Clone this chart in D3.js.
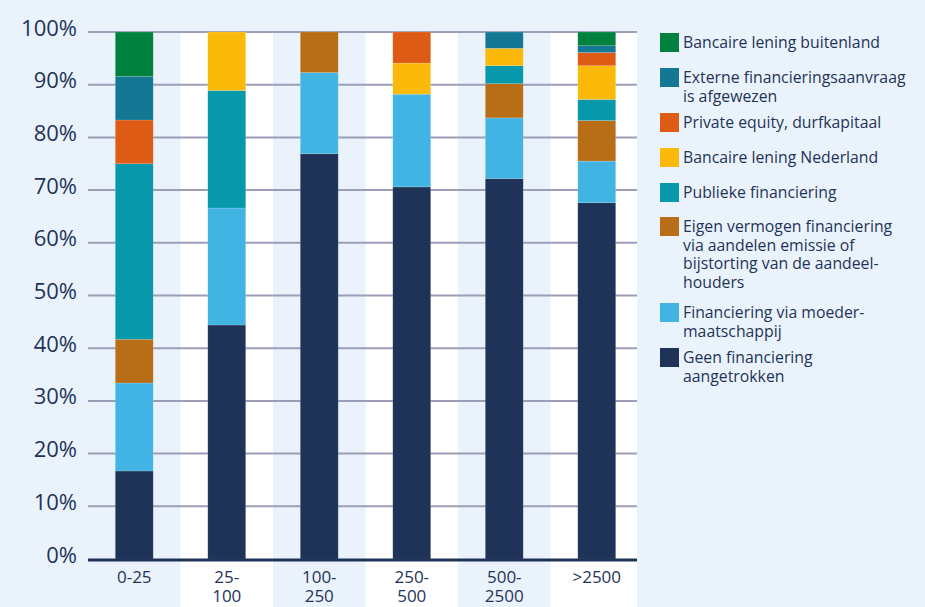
<!DOCTYPE html>
<html><head><meta charset="utf-8">
<script src="https://cdn.jsdelivr.net/npm/d3@7"></script>
<style>
html,body{margin:0;padding:0;background:#EAF3FB;}
svg{display:block;}
text{font-family:"Open Sans",sans-serif;fill:#1F3359;}
</style></head>
<body><svg id="chart" width="925" height="607"></svg>
<script>
const categories = ["0-25", "25-100", "100-250", "250-500", "500-2500", ">2500"];
const categoryLines = [["0-25"], ["25-", "100"], ["100-", "250"], ["250-", "500"], ["500-", "2500"], [">2500"]];
const yTicks = [0, 10, 20, 30, 40, 50, 60, 70, 80, 90, 100];

// series, bottom to top
const seriesNames = [
  "Geen financiering aangetrokken",
  "Financiering via moedermaatschappij",
  "Eigen vermogen financiering",
  "Publieke financiering",
  "Bancaire lening Nederland",
  "Private equity, durfkapitaal",
  "Externe financieringsaanvraag is afgewezen",
  "Bancaire lening buitenland"
];
const geen       = [16.7, 44.4, 76.9, 70.6, 72.2, 67.6];
const moeder     = [16.7, 22.2, 15.4, 17.6, 11.5, 7.9];
const eigen      = [8.3, 0, 7.7, 0, 6.5, 7.7];
const publieke   = [33.3, 22.3, 0, 0, 3.4, 4.0];
const bancaireNL = [0, 11.1, 0, 5.9, 3.3, 6.4];
const privateEq  = [8.3, 0, 0, 5.9, 0, 2.5];
const externe    = [8.3, 0, 0, 0, 3.1, 1.3];
const buitenland = [8.4, 0, 0, 0, 0, 2.6];
const seriesValues = [geen, moeder, eigen, publieke, bancaireNL, privateEq, externe, buitenland];
const colors = ["#1F3359", "#42B4E4", "#B86E16", "#0898AC", "#FBBA09", "#DD5B14", "#147894", "#00823E"];

// legend, top to bottom
const legendLines = [
  ["Bancaire lening buitenland"],
  ["Externe financieringsaanvraag", "is afgewezen"],
  ["Private equity, durfkapitaal"],
  ["Bancaire lening Nederland"],
  ["Publieke financiering"],
  ["Eigen vermogen financiering", "via aandelen emissie of", "bijstorting van de aandeel-", "houders"],
  ["Financiering via moeder-", "maatschappij"],
  ["Geen financiering", "aangetrokken"]
];
const legendColors = ["#00823E", "#147894", "#DD5B14", "#FBBA09", "#0898AC", "#B86E16", "#42B4E4", "#1F3359"];

const svg = d3.select("#chart");
const pLeft = 88, pRight = 637, pTop = 32, pBottom = 559;

const x = d3.scaleBand().domain(categories).range([pLeft, pRight + 6]).paddingInner(0.59).paddingOuter(0.295);
const xBand = d3.scaleBand().domain(categories).range([pLeft, pRight + 6]);
const y = d3.scaleLinear().domain([0, 100]).range([pBottom, pTop]);

// alternating column bands
svg.append("g").selectAll("rect").data(categories.filter((d, i) => i % 2 === 1)).join("rect")
  .attr("x", d => xBand(d)).attr("y", pTop)
  .attr("width", d => Math.min(xBand(d) + xBand.bandwidth(), pRight) - xBand(d)).attr("height", 607 - pTop)
  .attr("fill", "#FFFFFF");

// gridlines
svg.append("g").selectAll("line").data(yTicks.filter(t => t > 0)).join("line")
  .attr("x1", pLeft).attr("x2", pRight).attr("y1", d => y(d)).attr("y2", d => y(d))
  .attr("stroke", "#9C9EB8").attr("stroke-width", 2);

// stack
const table = categories.map((c, i) => {
  const row = {cat: c};
  seriesNames.forEach((s, k) => row[s] = seriesValues[k][i]);
  return row;
});
const stacked = d3.stack().keys(seriesNames)(table);

svg.append("g").selectAll("g").data(stacked).join("g")
  .attr("fill", (d, i) => colors[i])
  .selectAll("rect").data(d => d.filter(p => p[1] - p[0] > 0)).join("rect")
  .attr("x", d => x(d.data.cat)).attr("width", x.bandwidth())
  .attr("y", d => y(d[1])).attr("height", d => y(d[0]) - y(d[1]))
  .attr("stroke", "rgba(255,255,255,0.25)").attr("stroke-width", 0.6);

// baseline
svg.append("line").attr("x1", pLeft).attr("x2", pRight).attr("y1", pBottom + 1).attr("y2", pBottom + 1)
  .attr("stroke", "#1F3359").attr("stroke-width", 3);

// y axis labels
const yAxis = d3.axisLeft(y).tickValues(yTicks).tickFormat(d => d + "%").tickSize(0).tickPadding(0);
const ya = svg.append("g").attr("transform", `translate(${pLeft - 11},-4)`).call(yAxis);
ya.select(".domain").remove();
ya.selectAll("text").style("font-size", "22px").style("font-family", '"Open Sans",sans-serif').attr("fill", "#1F3359");

// x axis labels
const xAxis = d3.axisBottom(x).tickSize(0).tickFormat(() => "");
const xa = svg.append("g").attr("transform", `translate(0,${pBottom})`).call(xAxis);
xa.select(".domain").remove();
xa.selectAll(".tick").each(function(d, i) {
  const t = d3.select(this).append("text").attr("text-anchor", "middle").style("font-size", "17px").attr("fill", "#1F3359");
  categoryLines[i].forEach((ln, j) => t.append("tspan").attr("x", 0).attr("y", 24 + j * 18.5).text(ln));
});

// legend
const legendTops = [33, 68, 113, 148, 183, 217, 303, 348];
const lg = svg.append("g");
legendLines.forEach((lines, i) => {
  lg.append("rect").attr("x", 660).attr("y", legendTops[i]).attr("width", 19).attr("height", 19).attr("fill", legendColors[i]);
  const t = lg.append("text").style("font-size", "15.8px");
  lines.forEach((ln, j) => t.append("tspan").attr("x", 683).attr("y", legendTops[i] + 15 + j * 18.6).text(ln));
});
</script></body></html>
